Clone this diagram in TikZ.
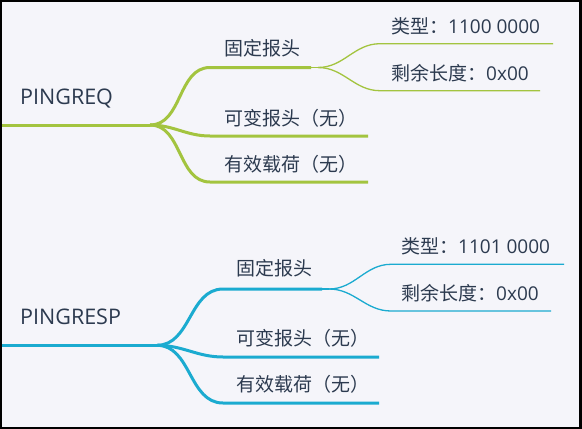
\documentclass[tikz,border=0pt]{standalone}
\usepackage{fontspec}
\setmainfont{Open Sans}
\newfontfamily\cjk{Noto Sans CJK SC}
\usetikzlibrary{positioning}
\definecolor{reqgreen}{HTML}{A3C43F}
\definecolor{respblue}{HTML}{1BABD0}
\definecolor{inkslate}{HTML}{2C3A4F}
\definecolor{paper}{HTML}{F5F5FA}

\begin{document}
\begin{tikzpicture}[x=1pt,y=-1pt,
	topic/.style={anchor=base west, inner sep=0pt, text=inkslate, font=\fontsize{19}{19}\selectfont},
	roottopic/.style={topic, font=\fontsize{21.5}{21.5}\selectfont},
	branch/.style={line width=3pt},
	twig/.style={line width=1.3pt}]

\useasboundingbox (0,0) rectangle (582,429);
\fill[paper] (0,0) rectangle (582,429);

% PINGREQ
	\coordinate (reqL) at (0,125);
	\coordinate (reqR) at (150,125);
	\coordinate (reqfixA) at (210,67.5);
	\coordinate (reqfixB) at (311,67.5);
	\coordinate (reqfixC) at (318,67.5);
	\coordinate (reqvarA) at (210,136);
	\coordinate (reqvarB) at (368,136);
	\coordinate (reqpayA) at (210,182);
	\coordinate (reqpayB) at (368,182);
	\coordinate (reqtypA) at (380,43.7);
	\coordinate (reqtypB) at (553,43.7);
	\coordinate (reqlenA) at (380,90.7);
	\coordinate (reqlenB) at (540,90.7);

 \node[roottopic] (req) at (20,104) {PINGREQ};
 \node[topic] (reqfix) at (224,55.5) {\cjk 固定报头};
 \node[topic] (reqvar) at (224,125) {\cjk 可变报头（无）};
 \node[topic] (reqpay) at (224,171) {\cjk 有效载荷（无）};
 \node[topic] (reqtyp) at (391,33.3) {{\cjk 类型：}1100 0000};
 \node[topic] (reqlen) at (391,80) {{\cjk 剩余长度：}0x00};

\draw[branch, reqgreen] (reqL)--(reqR);
\foreach \b in {fix,var,pay}
 \draw[branch, reqgreen] (reqR) to [out=0, in=180] (req\b A)--(req\b B);
\draw[twig, reqgreen] (reqfixB)--(reqfixC);
\foreach \b in {typ,len}
 \draw[twig, reqgreen] (reqfixC) to [out=0, in=180] (req\b A)--(req\b B);

% PINGRESP
	\coordinate (respL) at (0,345.3);
	\coordinate (respR) at (157,345.3);
	\coordinate (respfixA) at (223,289);
	\coordinate (respfixB) at (322,289);
	\coordinate (respfixC) at (329,289);
	\coordinate (respvarA) at (223,357);
	\coordinate (respvarB) at (379,357);
	\coordinate (resppayA) at (223,403);
	\coordinate (resppayB) at (379,403);
	\coordinate (resptypA) at (391,264.3);
	\coordinate (resptypB) at (564,264.3);
	\coordinate (resplenA) at (391,311);
	\coordinate (resplenB) at (551,311);

 \node[roottopic] (resp) at (20,324) {PINGRESP};
 \node[topic] (respfix) at (236,275.5) {\cjk 固定报头};
 \node[topic] (respvar) at (236,345) {\cjk 可变报头（无）};
 \node[topic] (resppay) at (236,391) {\cjk 有效载荷（无）};
 \node[topic] (resptyp) at (401,253.3) {{\cjk 类型：}1101 0000};
 \node[topic] (resplen) at (401,300.7) {{\cjk 剩余长度：}0x00};

\draw[branch, respblue] (respL)--(respR);
\foreach \b in {fix,var,pay}
 \draw[branch, respblue] (respR) to [out=0, in=180] (resp\b A)--(resp\b B);
\draw[twig, respblue] (respfixB)--(respfixC);
\foreach \b in {typ,len}
 \draw[twig, respblue] (respfixC) to [out=0, in=180] (resp\b A)--(resp\b B);

\draw[line width=2.5pt] (1,1) rectangle (580.5,428);
\end{tikzpicture}
\end{document}
